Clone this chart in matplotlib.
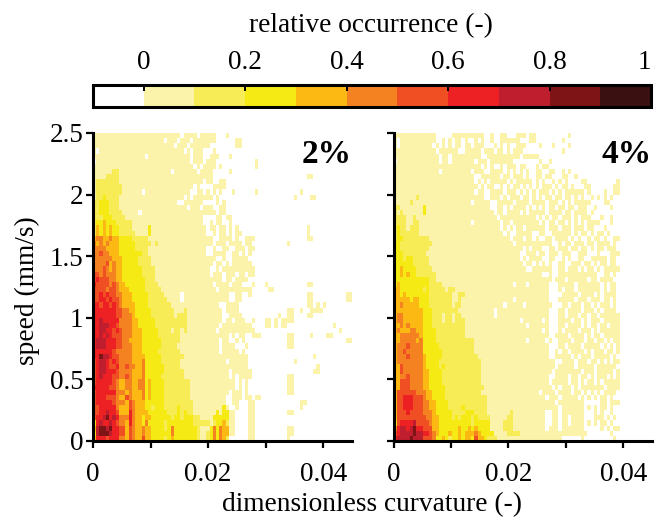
import numpy as np
import matplotlib
matplotlib.use("Agg")
import matplotlib.pyplot as plt
from matplotlib.colors import ListedColormap, BoundaryNorm
from matplotlib.cm import ScalarMappable

plt.rcParams['font.family'] = ['Liberation Serif', 'DejaVu Serif']

# Histogram class per cell, top row first. 0 = none, 1 = 0-0.1, 2 = 0.1-0.2 ... a = 0.9-1
rows_2pct = """
1111111111 1111111111 1111111011 1101111100 0100000000
1111111111 1111111111 1101110111 0111111100 0000110000
1111111111 1111111111 1111101110 1111110000 0000110000
1011111111 1111111111 1111111101 0111000100 0000000000
1111111111 1111110111 1111111111 0111001110 0010000000
0111111111 1111111111 1111111111 0111011100 0000000000 10
1111111111 1111111111 1111111111 1010111101 0000000000 10
1111112211 1111111111 1111011111 1101111000 0010000000
1111222211 1111111111 1111111111 1111111000 0000000000 0000000000 0000001100
1222222211 1111111111 1111111111 1111011001 1000000000
1222222221 1111111111 1111111111 1010000111 1000000000
1222222221 1111101111 1111111111 0011010101 0001000000 10 0000000000 0010000000
1223222211 1111111111 1111111101 0111111010 0000000000 0000000000 0010000110
2233322211 1111111111 1111110011 1111000010 1000000000
2233322211 1111111111 1111111110 1110111001 1000000000
2233322221 1111011111 1111111111 1111111101 1000000000
2223332222 1111111111 1111111111 1111000011 0110000000
2334333222 2211111111 1111111111 1111001011 0010000000
2434343322 2211111311 1111111111 1111101101 1010100000 0000000000 0000001000
2434343322 2221111311 1111111111 1111100101 1010110000 0000000000 0000001000
4554454433 3322222111 1111111111 1111111001 1110100111 0000000000 0000001100
5454544433 3332222212 1111111111 1111111011 1011110110 0000000000 1000000000
5555444433 3332222111 1111111111 1111100100 1100111011
5565544433 3333322111 1111111111 1111100111 1001101010
5555554443 3333222211 1111111111 1111111100 1001111100
5555645443 3333222211 1111111111 1111111011 0101111110
5556545443 3333322221 1111111111 1111110010 1111111111
6656555443 3333322221 1111111111 1111110111 0111011011
6766655443 3333332221 1111111111 1111111111 0110111100 0000000000
7666656544 3333332222 1111111111 1111111011 1101110001 0001000000 0000001100
6666566544 4333332222 2111111111 1111111101 1111111110 0000110000
6676766554 4433333222 2211111011 1111111111 1100110010 0000000000 0000001100 0000000011
6677676654 4433333222 2221111011 1111111111 1100110000 0000000000 0000001100 0000000011
7767767654 4443333222 2222111111 1111111110 0111100000 0000000000 0000001101 0100000000
7777777665 5443333322 2222211121 1111111111 0111100000 0000000000 1100100111 1000000000
7777777665 5543333322 2222212221 1111111111 0011110000 0000000100 1100001100 0000000000
7787777755 5544333332 2222222221 1111111111 0110111001 0001101011 1100000000
7788877655 5544333332 2222222221 1111111110 1111111110 0001101011 0000000000 0000100000
7788776765 5544433333 2222122121 1111111101 1111111111 0000000000 0000000000 0000001000
7787876665 5544433333 2222222111 1111111111 1101011001 1100000000 1100000100 0011000000
7888777665 5444433333 3222222111 1111111110 1100101000 0000000000 1100000000 0000000011
7888777665 5544433333 3222221111 1111111110 1111000100 0000000000 1100000000
7777776555 5544433333 2222222111 1111111110 1111101000 0000000000
7798876655 5544443333 3222222211 1111111111 1111111100 0000000000 0000000010
6788767655 5544453333 3222222111 1111111111 1011111100 0000000000 0010000000
6788766755 6554453333 3322222111 1111111111 1111111100 0000000000 0000000001
6788777655 5544453333 3322222211 1111111111 1101111110 0000000000 0000000011
6787776655 6544453333 3222222211 1111111111 1101011110 0000000000 1100000000
6777776544 5544553433 3322222222 1111111111 1111010100 0000000000 1100000000
7777766544 5544553433 3322222222 1111111111 1111010100 0000000000 1100000000
6777777555 4544453433 3322222222 1111111111 1101110100 0000000000 1100000000
6777666544 6544453433 3322222222 1111111111 1001110110 1100000000
6777776555 4654443333 3322222222 2111111111 1001100011 0000000000 0000110000
6677777544 4654443323 3322223222 2111111111 3100100011 0000000000 0000100000
6677877644 4754444333 3332223232 2111111131 3311000011 0000000000 1100000000
6778978755 5754434433 3333233233 3221111333 3311000011
3787787655 4754435333 3323333333 3222221233 4211000011
4899897766 4654454433 3323533333 3321113535 4411000011 0000000000 1100000000
3899987766 4654454433 3333533333 3321123535 4411000011 0000000000 1100000000
4777677755 4654464433 3323433333 3321123535 4200000011 0000000000 1000000000
"""

rows_4pct = """
1111111111 1110000011 1111111100 1001100011 1011000000 0000100000
1011111111 1110010101 1010010100 1001111110 0011000000 0010000000
1011111111 1101010101 1011011100 0101010011 1000010001 0000100000
1111111111 1110111111 0011111011 1011010111 0000000000 0010000000
1111111111 1111011011 1111111001 1111111110 1111100000
0111111111 1111011011 1111101110 1111111000 0000010010
1111111111 1111111111 1111111010 1001011101 1000101100
1111111111 1111011111 1111011100 1111010101 0100110011 0010100000
1111111111 1111111111 1111100111 1110110111 0100110110 0011001000
1111111111 1111111111 1111101010 1111101011 1110101001 0101000011 0000000001
1111111111 1111111111 1111110101 1001010110 1010101110 1011010001 1000000011
1111111111 1111111111 1111101100 1111011101 0101011101 0101111110 1000010011
1111111211 1111111111 1111111100 1110101110 1101010110 1101101010 0101010100
1111121111 1111111111 1111011111 0011111011 1101111011 1010101111 1000011000
2211111113 1111111111 1111111111 0011010111 1010101011 0110110111 0010000100
2121111113 1111111111 1111111111 1011011110 1011111011 1101101111 0100000000
2222112111 1111111111 1111111111 1101111111 1111010101 1011101011 1000100100
2222112211 1111111111 1111011111 1110110111 1111101011 0110101010 1111000100
2322122211 1111111111 1111111111 1110101011 0111111011 1011101110 1100010000
2322222211 1111111111 1111111111 1111010011 1110011001 1111101011 0101101000
2332222222 2111111111 1111111111 1111110111 0110100110 1111010100 1011010011
3322222222 2211111111 1111111111 1111111011 1111111110 0101101110 1101111010
3322222222 2111111111 1111111111 1111111111 0101110011 0111011011 0101101110
3332222222 1111111111 1111111111 1111111110 0111011011 1011100111 0001000111
3332332222 2111111111 1111111111 1111111110 1011110011 0010100110 0111110110
3333332222 2111111111 1111111111 1111111111 0110101010 0110011101 1010110110
3343333222 2211111111 1111111111 1111111111 1001111110 0110111010 1101011111
3343433222 2221111111 1111111111 1111111111 1111110010 0111111111 1110011010
3333333333 3221111111 1111111111 1111111111 1111111110 1110111111 0110111100
3433333333 3222211111 1111111111 1111111011 1011111100 0111110111 1111010110
4433333332 3222221221 1111111111 1111111111 1111111100 0101110111 1111010110
4434333333 3222222211 2211111111 1111111111 1111111100 0011111011 1101011110
4444434433 3222222211 2111111111 1111111011 1111111100 0111110111 0111011010
4454444433 3222222212 2111111111 1111011111 0111111110 0011011101 1010111010
4444444443 3322222222 1111111111 1011111111 1111111100 0110111101 1101011110
4554444443 3322212212 2111111111 1011111111 1111111100 0110111011 0110111111
4554444443 3322212212 2211111111 1111111110 1111110100 0111101101 0111011111
4454544443 3322222222 2211111111 1111111111 1011111100 0110111101 0110110111
4544455443 3332222222 2211111111 1111111111 1111110100 0101111011 1010111111
4455555543 3332222222 2211111111 1111111111 1111111100 1111011110 1011011111
4455555453 3332222222 2222211111 1111111111 1011111010 0111101110 1101101011
4555655553 3333222222 2222211111 1111111111 1111111100 0110111101 1111010101
4556555553 3333322222 2222211111 1111111111 1111111100 1011011110 1011101101
4555655554 3333322222 2222221111 1111111111 1111111100 1111101011 1011111010
4555555554 3333222222 2222222111 1111111111 1111111111 0011110111 0110101011
4465555554 3333232222 2222222111 1111111111 1111111111 0111110111 1101111110
4465555554 4333322222 2222222111 1111111111 1111111110 1111111101 1101111101
4455655554 4333322222 2222222111 1111111111 1111111100 1111011011 0101110101
4466655554 4333322222 2222222111 1111111111 1111111101 1111011010 1101011111
4466655554 4333332222 2222222211 1111111111 1111111110 1011101011 1111101111
4666666555 4433332222 2222222111 1111111111 1111101111 0111101101 0101011110
4667776665 4433332222 2222222221 1111111111 1111111011 1011111010 1010110100
4667776665 5443333222 2222222221 1111111111 1111111111 0111111110 0000110111
4667776665 5443333222 2322222221 1111111111 1111111111 1011111110 1010110100
4666766665 5543333322 2233322221 1111112111 1111111001 1011111110 0010100100
4666666666 5544333323 2333232222 1111122111 1111111001 1011011110 0011101010
3677778666 6544333333 3333233333 1111222111 1111111001 1011011110 1010110100
5788789776 6644333333 4334343333 1111222111 1111111011 1011111110 0000101011
6788889887 7654333433 4344454333 3111122221 1111111111 1111111111 0000000100
7888898886 6653343233 4344364432 2211111111 1111111111 1100000010 0000000010
"""

curv_max = 0.045
speed_max = 2.5
xticks = [0, 0.01, 0.02, 0.03, 0.04]
xticklabels = ['0', '', '0.02', '', '0.04']
yticks = [0, 0.5, 1, 1.5, 2, 2.5]
yticklabels = ['0', '0.5', '1', '1.5', '2', '2.5']
cbar_bounds = [-0.1, 0, 0.1, 0.2, 0.3, 0.4, 0.5, 0.6, 0.7, 0.8, 0.9, 1.0]
cbar_ticks = [0, 0.2, 0.4, 0.6, 0.8, 1]
cbar_ticklabels = ['0', '0.2', '0.4', '0.6', '0.8', '1']
colors = ['#FFFFFF', '#FAF3A9', '#F7EC55', '#F5EA14', '#FDB913', '#F58220',
          '#F04E23', '#ED2024', '#BE1E2D', '#7F1416', '#3A1010']


def grid(text):
    out = []
    for line in text.strip().splitlines():
        s = line.replace(' ', '').ljust(80, '0')[:80]
        out.append([int(c, 16) for c in s])
    return (np.array(out)[::-1] - 1) * 0.1 + 0.05


W, H = 655, 518
fig = plt.figure(figsize=(W / 100, H / 100), dpi=100)


def rect(x0, y0, x1, y1):
    return [x0 / W, 1 - y1 / H, (x1 - x0) / W, (y1 - y0) / H]


cmap = ListedColormap(colors)
norm = BoundaryNorm(cbar_bounds, cmap.N)

for box, text, name, first in [((93, 133, 352, 441), rows_2pct, '2%', True),
                               ((393.5, 133, 652, 441), rows_4pct, '4%', False)]:
    ax = fig.add_axes(rect(*box))
    z = grid(text)
    xe = np.linspace(0, curv_max, z.shape[1] + 1)
    ye = np.linspace(0, speed_max, z.shape[0] + 1)
    ax.pcolormesh(xe, ye, z, cmap=cmap, norm=norm, rasterized=True)
    ax.set_xlim(0, curv_max)
    ax.set_ylim(0, speed_max)
    for s in ('top', 'right'):
        ax.spines[s].set_visible(False)
    for s in ('left', 'bottom'):
        ax.spines[s].set_linewidth(2.2)
    ax.set_xticks(xticks, xticklabels)
    ax.set_yticks(yticks, yticklabels if first else [])
    ax.tick_params(length=5, width=1.6, labelsize=19.5, pad=2)
    ax.tick_params(axis='x', pad=10)
    ax.set_axisbelow(False)
    ax.text(0.998, 0.93, name, transform=ax.transAxes, ha='right', va='center',
            fontsize=24, fontweight='bold')

cax = fig.add_axes(rect(93, 84.5, 651, 107))
cb = fig.colorbar(ScalarMappable(norm=norm, cmap=cmap), cax=cax, orientation='horizontal',
                  spacing='proportional', ticks=cbar_ticks, drawedges=False)
cb.ax.xaxis.set_ticks_position('top')
cb.set_ticklabels(cbar_ticklabels)
cb.ax.tick_params(direction='in', length=4, width=1.4, labelsize=19.5, pad=7)
cb.minorticks_off()
cb.outline.set_linewidth(2.2)
cb.ax.get_xticklabels()[-1].set_horizontalalignment('right')

fig.text(371, H - 26, 'relative occurrence (-)', transform=None, ha='center', va='center', fontsize=19.7)
fig.text(372, H - 505, 'dimensionless curvature (-)', transform=None, ha='center', va='center', fontsize=19.7)
fig.text(27, H - 291, 'speed (mm/s)', transform=None, rotation=90, ha='center', va='center', fontsize=19.7)

fig.savefig('out.png', dpi=100)
